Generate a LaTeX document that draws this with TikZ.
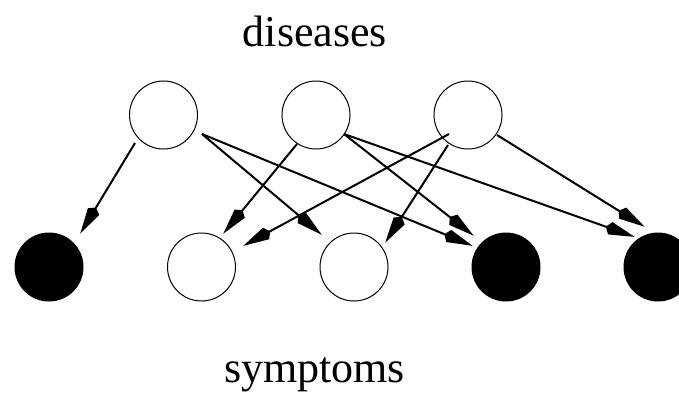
\documentclass[tikz,border=0pt]{standalone}
\usepackage{fontspec}
\setmainfont{Liberation Serif}
\usetikzlibrary{arrows.meta,calc}
\begin{document}
\begin{tikzpicture}[x=1pt,y=-1pt,
  nd/.style={circle,draw=black,line width=1pt,minimum size=68pt,inner sep=0pt},
  obs/.style={nd,fill=black},
  lab/.style={font=\fontsize{44}{50}\selectfont,anchor=base,inner sep=0pt},
  arr/.style={line width=2pt,-{Stealth[length=26pt,width=12pt,inset=-5pt]}}]
\useasboundingbox (0,0) rectangle (679,404);
\node[lab] (dis) at (315,47) {diseases};
\node[lab] (sym) at (314.5,382) {symptoms};
\node[nd] (t1) at (163.5,115) {};
\node[nd] (t2) at (316,115) {};
\node[nd] (t3) at (468,115) {};
\node[obs] (b0) at (49,267) {};
\node[nd] (b1) at (201.5,267) {};
\node[nd] (b2) at (354,267) {};
\node[obs] (b3) at (506,267) {};
\node[obs] (b4) at (658,267) {};
\draw[arr] ($(t1)+(-28.5,28)$) -- ($(b0)+(31,-33)$);
\draw[arr] ($(t1)+(38.5,19)$) -- ($(b2)+(-32,-32)$);
\draw[arr] ($(t1)+(38.5,19)$) -- ($(b3)+(-33,-21)$);
\draw[arr] ($(t2)+(-19,29)$) -- ($(b1)+(21.5,-33)$);
\draw[arr] ($(t2)+(28,19)$) -- ($(b3)+(-32,-31)$);
\draw[arr] ($(t2)+(28,19)$) -- ($(b4)+(-23,-30)$);
\draw[arr] ($(t3)+(-19,19)$) -- ($(b1)+(41.5,-21)$);
\draw[arr] ($(t3)+(-20,30)$) -- ($(b2)+(31,-24)$);
\draw[arr] ($(t3)+(29,20)$) -- ($(b4)+(-13,-40)$);
\end{tikzpicture}
\end{document}
